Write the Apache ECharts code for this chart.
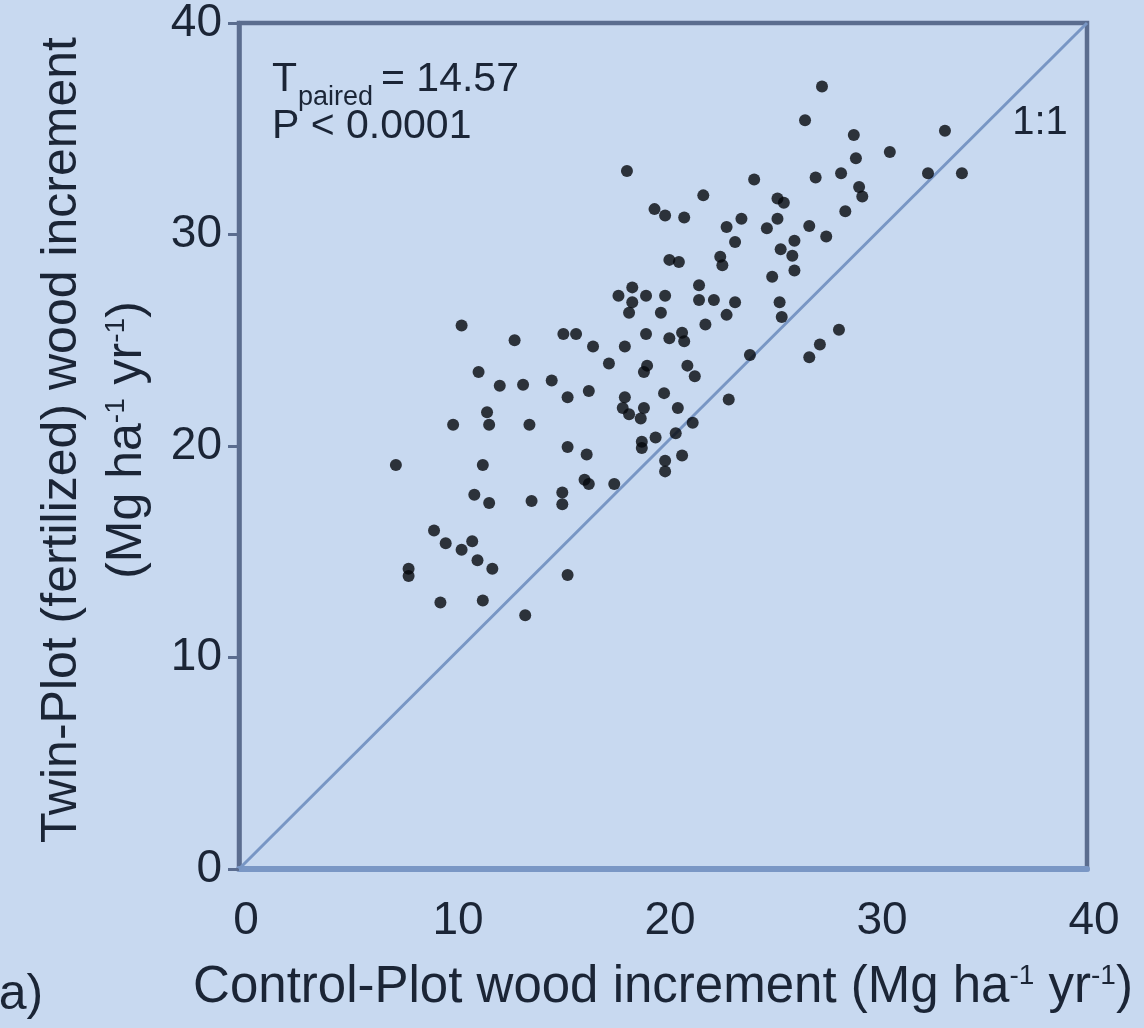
<!DOCTYPE html>
<html>
<head>
<meta charset="utf-8">
<title>Twin-Plot vs Control-Plot wood increment</title>
<script src="https://cdn.jsdelivr.net/npm/echarts/dist/echarts.min.js"></script>
<style>
  html, body { margin: 0; padding: 0; background: #c8d9f0; }
  #main { width: 1144px; height: 1028px; }
</style>
</head>
<body>
<div id="main"></div>
<script>
// control plot increment (x) and twin plot increment (y), Mg ha-1 yr-1
var controlIncrement = [
  10.5, 13.0, 15.3, 15.9, 16.7, 18.2, 17.45, 11.3, 12.3, 13.4, 14.75, 15.5, 16.5, 18.2, 18.1, 18.4,
  11.7, 11.8, 10.1, 13.7, 15.5, 16.4, 7.4, 11.5, 16.3, 16.5, 17.7, 15.25, 15.25, 11.1, 11.8, 13.8,
  9.2, 9.75, 10.5, 11.0, 11.25, 11.95, 8.0, 8.0, 15.5, 9.5, 11.5, 13.5,
  18.3, 24.3, 21.9, 19.6, 20.1, 21.0, 25.4, 25.7, 23.7, 23.0, 24.9, 25.4, 23.4, 25.55, 26.2,
  20.3, 20.75, 22.7, 22.8, 25.15, 26.2, 18.55, 17.9, 18.55, 19.2, 20.1, 21.7, 21.7, 22.4, 23.4, 25.5,
  18.4, 19.9, 23.0, 22.0, 25.6, 19.2, 20.3, 20.9, 21.0, 19.25, 19.1, 21.15, 21.5, 24.1,
  20.05, 19.1, 18.95, 20.7, 21.4, 23.1, 20.6, 19.65, 19.0, 19.0, 20.9, 20.1, 20.1,
  27.5, 26.7, 29.0, 33.3, 30.7, 29.1, 28.4, 27.2, 29.25, 29.4, 32.5, 34.1, 28.6, 26.9, 27.7, 26.1,
  28.3, 27.4, 26.9
];
var twinIncrement = [
  25.7, 25.0, 25.3, 25.3, 24.7, 24.7, 23.9, 23.5, 22.85, 22.9, 23.1, 22.3, 22.6, 22.3, 21.8, 21.5,
  21.6, 21.0, 21.0, 21.0, 19.95, 19.6, 19.1, 19.1, 18.4, 18.2, 18.2, 17.8, 17.25, 17.7, 17.3, 17.4,
  16.0, 15.4, 15.1, 15.5, 14.6, 14.2, 14.2, 13.85, 13.9, 12.6, 12.7, 12.0,
  33.0, 32.6, 31.85, 31.2, 30.9, 30.8, 31.7, 31.5, 30.75, 30.35, 30.3, 30.75, 29.65, 29.3, 29.7,
  28.8, 28.7, 28.95, 28.55, 28.0, 28.3, 27.5, 27.1, 26.8, 27.1, 27.1, 27.6, 26.9, 26.9, 26.8, 26.8,
  26.3, 26.3, 26.2, 25.75, 26.1, 25.3, 25.1, 25.35, 24.95, 23.8, 23.5, 23.8, 23.3, 24.3,
  22.5, 21.8, 21.3, 21.8, 21.1, 22.2, 20.6, 20.4, 20.2, 19.9, 19.55, 19.3, 18.8,
  37.0, 35.4, 34.7, 34.9, 33.9, 33.6, 32.9, 32.7, 32.25, 31.8, 32.9, 32.9, 31.1, 30.4, 29.9, 29.0,
  25.5, 24.8, 24.2
];
// 1:1 reference line end points
var oneToOne = [0, 40];
// axis range
var axisMin = 0;
var axisMax = 40;
var axisStep = 10;

var font = "'Liberation Sans', Arial, sans-serif";
var textColor = '#1b2536';
var frameColor = '#5b6d8f';

var points = controlIncrement.map(function (x, i) {
  return [x, twinIncrement[i]];
});

var chart = echarts.init(document.getElementById('main'), null, { renderer: 'canvas' });
chart.setOption({
  backgroundColor: '#c8d9f0',
  animation: false,
  grid: {
    left: 239,
    right: 57,
    top: 18,
    bottom: 159,
    show: true,
    borderColor: frameColor,
    borderWidth: 4.5,
    backgroundColor: 'transparent'
  },
  xAxis: {
    type: 'value',
    min: axisMin,
    max: axisMax,
    interval: axisStep,
    name: 'Control-Plot wood increment (Mg ha{sup|-1} yr{sup|-1})',
    nameLocation: 'middle',
    nameGap: 93,
    nameTextStyle: {
      fontSize: 51,
      fontFamily: font,
      color: textColor,
      rich: {
        sup: { fontSize: 28, fontFamily: font, color: textColor, verticalAlign: 'top' }
      }
    },
    axisLine: { show: true, lineStyle: { color: '#7a97c5', width: 6 } },
    axisTick: { show: false },
    splitLine: { show: false },
    axisLabel: {
      fontSize: 46,
      fontFamily: font,
      color: textColor,
      margin: 29,
      padding: [0, 0, 0, 14]
    }
  },
  yAxis: {
    type: 'value',
    min: axisMin,
    max: axisMax,
    interval: axisStep,
    axisLine: { show: true, lineStyle: { color: frameColor, width: 4.5 } },
    axisTick: { show: true, inside: false, length: 11, lineStyle: { color: frameColor, width: 3 } },
    splitLine: { show: false },
    axisLabel: {
      fontSize: 46,
      fontFamily: font,
      color: textColor,
      margin: 17,
      padding: [10, 0, 0, 0]
    }
  },
  graphic: [
    // y axis title, two lines
    {
      type: 'text',
      x: 62,
      y: 440,
      rotation: Math.PI / 2,
      style: {
        text: 'Twin-Plot (fertilized) wood increment',
        fontSize: 50,
        fontFamily: font,
        fill: textColor,
        align: 'center',
        verticalAlign: 'middle'
      }
    },
    {
      type: 'text',
      x: 127,
      y: 440,
      rotation: Math.PI / 2,
      style: {
        text: '(Mg ha{sup|-1} yr{sup|-1})',
        fontSize: 50,
        fontFamily: font,
        fill: textColor,
        align: 'center',
        verticalAlign: 'middle',
        rich: {
          sup: { fontSize: 28, fontFamily: font, fill: textColor, verticalAlign: 'top' }
        }
      }
    },
    // paired t-test note
    {
      type: 'text',
      x: 272,
      y: 80,
      style: { text: 'T', fontSize: 41, fontFamily: font, fill: textColor, align: 'left', verticalAlign: 'middle' }
    },
    {
      type: 'text',
      x: 298,
      y: 98,
      style: { text: 'paired', fontSize: 27, fontFamily: font, fill: textColor, align: 'left', verticalAlign: 'middle' }
    },
    {
      type: 'text',
      x: 381,
      y: 80,
      style: { text: '= 14.57', fontSize: 41, fontFamily: font, fill: textColor, align: 'left', verticalAlign: 'middle' }
    },
    {
      type: 'text',
      x: 272,
      y: 127,
      style: { text: 'P < 0.0001', fontSize: 41, fontFamily: font, fill: textColor, align: 'left', verticalAlign: 'middle' }
    },
    {
      type: 'text',
      x: 1040,
      y: 123,
      style: { text: '1:1', fontSize: 40, fontFamily: font, fill: textColor, align: 'center', verticalAlign: 'middle' }
    },
    // panel letter, cut at the left edge like the source
    {
      type: 'text',
      x: -18,
      y: 995,
      style: { text: '(a)', fontSize: 50, fontFamily: font, fill: textColor, align: 'left', verticalAlign: 'middle' }
    }
  ],
  series: [
    {
      name: '1:1',
      type: 'line',
      data: oneToOne.map(function (v) { return [v, v]; }),
      symbol: 'none',
      lineStyle: { color: '#7896c4', width: 3 },
      z: 1
    },
    {
      name: 'plots',
      type: 'scatter',
      data: points,
      symbol: 'circle',
      symbolSize: 12,
      itemStyle: { color: '#05070c' },
      z: 2
    }
  ]
});
</script>
</body>
</html>
